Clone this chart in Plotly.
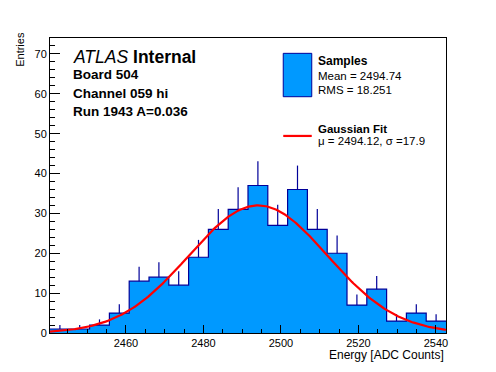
import numpy as np
import plotly.graph_objects as go

# ---- data ----
x_lo = 2440.4
bin_width = 5.11
counts = [1, 1, 2, 5, 13, 14, 12, 19, 26, 31, 37, 27, 36, 26, 20, 7, 11, 3, 5, 3]
fit_mu = 2494.12
fit_sigma = 17.9
fit_amp = 32.0
x_ticks = [2460, 2480, 2500, 2520, 2540]
y_ticks = [0, 10, 20, 30, 40, 50, 60, 70]

n = len(counts)
edges = [x_lo + bin_width * i for i in range(n + 1)]
centers = [x_lo + bin_width * (i + 0.5) for i in range(n)]
errs = [float(np.sqrt(c)) for c in counts]

FILL = "#0099ff"
EDGE = "#000099"
FONT = "Liberation Sans, Arial, Helvetica, sans-serif"

fig = go.Figure()

# filled step histogram
fig.add_trace(go.Scatter(
    x=edges, y=counts + [counts[-1]],
    mode="lines", line=dict(shape="hv", color=EDGE, width=1.2),
    fill="tozeroy", fillcolor=FILL, showlegend=False, hoverinfo="skip"))

# error bars (upper)
fig.add_trace(go.Scatter(
    x=centers, y=counts, mode="markers",
    marker=dict(size=0.1, color=EDGE),
    error_y=dict(type="data", array=errs, arrayminus=[0] * n, symmetric=False,
                 color=EDGE, thickness=1.2, width=0),
    showlegend=False, hoverinfo="skip"))

# gaussian fit
xf = np.linspace(edges[0], edges[-1], 300)
yf = fit_amp * np.exp(-0.5 * ((xf - fit_mu) / fit_sigma) ** 2)
fig.add_trace(go.Scatter(x=xf, y=yf, mode="lines",
                         line=dict(color="#ff0000", width=2.2),
                         showlegend=False, hoverinfo="skip"))

# page body has an 8px default margin, so the figure is sized/shifted to compensate
fig.update_layout(
    width=488, height=364,
    margin=dict(l=42, r=50, t=30, b=39),
    paper_bgcolor="white", plot_bgcolor="white",
    font=dict(family=FONT, size=11, color="black"),
    showlegend=False,
)
fig.update_xaxes(
    range=[edges[0], edges[-1]], tickvals=x_ticks, ticktext=[str(v) for v in x_ticks],
    showline=True, linecolor="black", linewidth=1, mirror=True,
    ticks="inside", ticklen=8, tickwidth=1, tickcolor="black",
    minor=dict(dtick=5, tick0=2460, ticks="inside", ticklen=4, tickcolor="black", tickwidth=1),
    showgrid=False, zeroline=False, tickfont=dict(size=11),
)
fig.update_yaxes(
    range=[0, 74], tickvals=y_ticks, ticktext=[str(v) for v in y_ticks],
    showline=True, linecolor="black", linewidth=1, mirror=True,
    ticks="inside", ticklen=10, tickwidth=1, tickcolor="black",
    minor=dict(dtick=2, tick0=0, ticks="inside", ticklen=5, tickcolor="black", tickwidth=1),
    showgrid=False, zeroline=False, tickfont=dict(size=11), ticklabelstandoff=0,
)

ann = []
def A(text, x, y, size, xanchor="left", yanchor="middle", angle=0):
    ann.append(dict(text=text, x=x, y=y, xref="paper", yref="paper",
                    xanchor=xanchor, yanchor=yanchor, showarrow=False,
                    textangle=angle, font=dict(family=FONT, size=size, color="black")))

A("<i>ATLAS</i> <b>Internal</b>", 0.052, 0.936, 17.5)
A("<b>Board 504</b>", 0.052, 0.875, 13.5)
A("<b>Channel 059 hi</b>", 0.052, 0.8125, 13.5)
A("<b>Run 1943 A=0.036</b>", 0.052, 0.750, 13.5)

A("<b>Samples</b>", 0.672, 0.922, 12)
A("Mean = 2494.74", 0.672, 0.871, 11.5)
A("RMS = 18.251", 0.672, 0.825, 11.5)
A("<b>Gaussian Fit</b>", 0.672, 0.693, 11.5)
A("\u03bc = 2494.12, \u03c3 =17.9", 0.672, 0.650, 11.5)

A("Energy [ADC Counts]", 1.0, -0.0746, 12, xanchor="right")
A("Entries", -0.076, 0.963, 11, xanchor="center", angle=-90)

fig.update_layout(annotations=ann)

fig.add_shape(type="rect", xref="paper", yref="paper",
              x0=0.589, x1=0.661, y0=0.801, y1=0.948,
              fillcolor=FILL, line=dict(color=EDGE, width=1))
fig.add_shape(type="line", xref="paper", yref="paper",
              x0=0.589, x1=0.661, y0=0.668, y1=0.668,
              line=dict(color="#ff0000", width=2.2))

fig.write_html("out.html")
